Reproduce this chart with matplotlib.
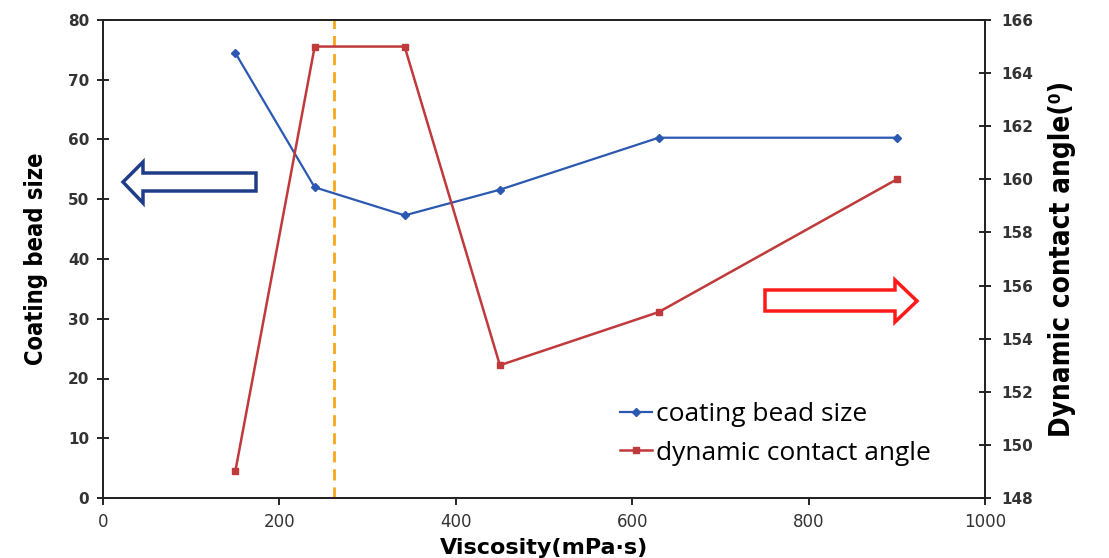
import matplotlib
matplotlib.use("Agg")
import matplotlib.pyplot as plt
from matplotlib.patches import Polygon

viscosity = [150, 240, 342, 450, 630, 900]
bead_size = [74.5, 52.0, 47.3, 51.6, 60.3, 60.3]
contact_angle = [149.0, 165.0, 165.0, 153.0, 155.0, 160.0]
critical_viscosity = 262

x_ticks = [0, 200, 400, 600, 800, 1000]
left_ticks = [0, 10, 20, 30, 40, 50, 60, 70, 80]
right_ticks = [148, 150, 152, 154, 156, 158, 160, 162, 164, 166]

BLUE = "#2b58b0"
RED = "#c0393b"

W, H = 1109, 558
fig = plt.figure(figsize=(W / 100, H / 100), dpi=100)
ax = fig.add_axes([103 / W, 1 - 498 / H, (985 - 103) / W, (498 - 20) / H])
ax2 = ax.twinx()

l1, = ax.plot(viscosity, bead_size, color=BLUE, lw=1.6, marker="D", ms=4,
              label="coating bead size", zorder=3)
l2, = ax2.plot(viscosity, contact_angle, color=RED, lw=1.8, marker="s", ms=5,
               label="dynamic contact angle", zorder=3)
ax.axvline(critical_viscosity, color="#f5a81c", lw=2, ls=(0, (4, 2.5)), zorder=2)

ax.set_xlim(0, 1000)
ax.set_ylim(0, 80)
ax2.set_ylim(148, 166)
ax.set_xticks(x_ticks)
ax.set_yticks(left_ticks)
ax2.set_yticks(right_ticks)

tick_font = dict(family="DejaVu Sans", weight="bold", size=11, color="#333333")
for lab in ax.get_yticklabels() + ax2.get_yticklabels():
    lab.set(**tick_font)
ax.set_xticklabels([str(t) for t in x_ticks],
                   fontdict=dict(family="DejaVu Sans", size=12, color="#333333"))

ax.tick_params(axis="y", direction="inout", length=8, width=1.2, pad=6)
ax.tick_params(axis="x", direction="out", length=5, width=1.2, pad=6)
ax2.tick_params(axis="y", direction="inout", length=8, width=1.2, pad=8)
for a in (ax, ax2):
    for s in a.spines.values():
        s.set_linewidth(1.3)
        s.set_color("#222222")

ax.set_ylabel("Coating bead size", fontsize=17, fontweight="bold",
              family="DejaVu Sans", fontstretch="condensed", labelpad=14)
ax2.set_ylabel("Dynamic contact angle(\u2070)", fontsize=20, fontweight="bold",
               family="DejaVu Sans", fontstretch="condensed", labelpad=10)
ax.set_xlabel("Viscosity(mPa\u00b7s)", fontsize=16, fontweight="bold",
              family="DejaVu Sans", labelpad=5)

ax2.legend(handles=[l1, l2], loc="lower right", bbox_to_anchor=(0.965, 0.018),
           frameon=False, handlelength=1.2, handletextpad=0.15,
           labelspacing=0.5,
           prop=dict(family="Open Sans", size=19, weight="medium"))


def px(x, y):
    return (x / W, 1 - y / H)


left_arrow = [px(123, 182), px(143, 162), px(143, 173), px(256, 173),
              px(256, 191), px(143, 191), px(143, 203)]
right_arrow = [px(917, 301), px(895, 280), px(895, 290), px(765, 290),
               px(765, 311), px(895, 311), px(895, 322)]
fig.patches.append(Polygon(left_arrow, closed=True, transform=fig.transFigure,
                           facecolor="white", edgecolor="#1f3c88", lw=2.5))
fig.patches.append(Polygon(right_arrow, closed=True, transform=fig.transFigure,
                           facecolor="white", edgecolor="#ff1a1a", lw=2.5))

fig.savefig("out.png", dpi=100)
